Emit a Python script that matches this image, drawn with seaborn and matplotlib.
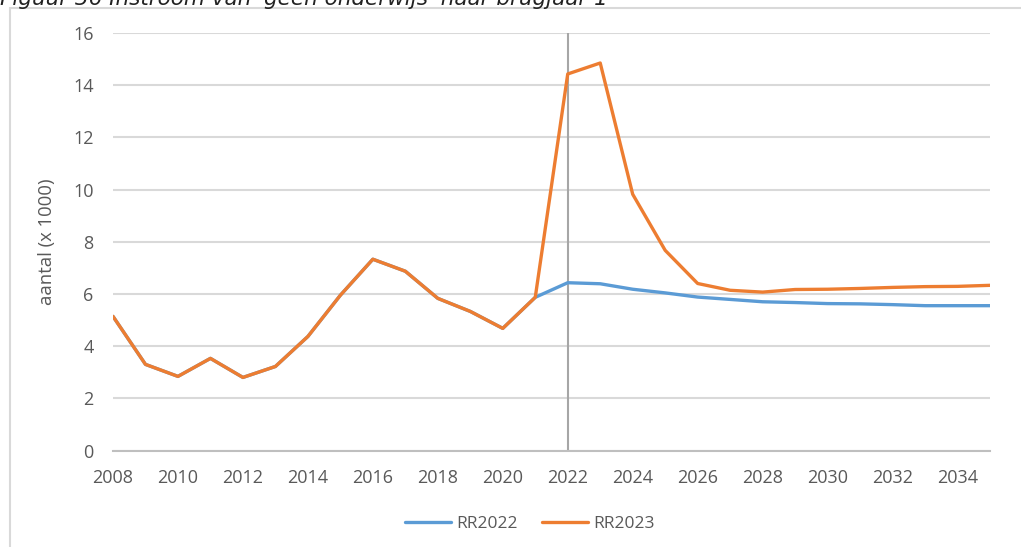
import numpy as np
import pandas as pd
import matplotlib
matplotlib.use("Agg")
import matplotlib.pyplot as plt
import seaborn as sns
from matplotlib.patches import Rectangle

years = list(range(2008, 2036))
rr2023 = [5.14, 3.30, 2.84, 3.53, 2.80, 3.22, 4.37, 5.95, 7.33, 6.87, 5.83, 5.33, 4.68, 5.87,
          14.43, 14.85, 9.82, 7.67, 6.40, 6.14, 6.07, 6.17, 6.18, 6.21, 6.25, 6.28, 6.29, 6.33]
rr2022 = [5.14, 3.30, 2.84, 3.53, 2.80, 3.22, 4.37, 5.95, 7.33, 6.87, 5.83, 5.33, 4.68, 5.87,
          6.43, 6.39, 6.18, 6.04, 5.88, 5.79, 5.70, 5.67, 5.63, 5.62, 5.59, 5.55, 5.55, 5.55]
series_names = ["RR2022", "RR2023"]
colors = ["#5B9BD5", "#ED7D31"]

df = pd.DataFrame({
    "jaar": years * 2,
    "aantal": rr2022 + rr2023,
    "reeks": [series_names[0]] * len(years) + [series_names[1]] * len(years),
})

sns.set_style("white")
plt.rcParams["font.family"] = ["Open Sans", "DejaVu Sans"]

fig = plt.figure(figsize=(10.21, 5.47), dpi=100)
W, H = 1021, 547
ax = fig.add_axes([113 / W, 1 - 450.5 / H, (990 - 113) / W, (450.5 - 33) / H])

# outer chart frame (runs off the right and bottom edge)
fig.add_artist(Rectangle((10 / W, -0.1), 1.1, 1 - 8 / H + 0.1, transform=fig.transFigure,
                         fill=False, edgecolor="#D9D9D9", lw=1.5))

# caption above the chart, only its lower part is inside the picture
fig.text(0.0, 1 - 5 / H, "Figuur 36 Instroom van 'geen onderwijs' naar brugjaar 1",
         family="DejaVu Sans", style="italic", fontsize=15.5, color="#222222",
         ha="left", va="baseline")

ax.axvline(2022, color="#A6A6A6", lw=1.5, zorder=1)
sns.lineplot(data=df, x="jaar", y="aantal", hue="reeks", palette=colors,
             linewidth=2.4, ax=ax, zorder=3)

ax.set_xlim(2008, 2035)
ax.set_ylim(0, 16)
ax.set_yticks(np.arange(0, 17, 2))
ax.set_xticks(np.arange(2008, 2035, 2))
ax.grid(axis="y", color="#D9D9D9", lw=1.5)
ax.set_axisbelow(True)
for s in ["top", "right", "left"]:
    ax.spines[s].set_visible(False)
ax.spines["bottom"].set_color("#BFBFBF")
ax.spines["bottom"].set_linewidth(1.5)
ax.tick_params(axis="x", direction="out", length=5, width=1.5, color="#BFBFBF",
               labelcolor="#595959", labelsize=13, pad=8)
ax.tick_params(axis="y", length=0, labelcolor="#595959", labelsize=13, pad=14)
ax.set_xlabel("")
ax.set_ylabel("aantal (x 1000)", fontsize=13.3, color="#595959", labelpad=12)

ax.legend(loc="upper center", bbox_to_anchor=(0.475, -0.12), ncol=2, frameon=False,
          fontsize=12.5, handlelength=2.65, columnspacing=1.4, handletextpad=0.3,
          labelcolor="#595959")

fig.savefig("out.png", dpi=100)
